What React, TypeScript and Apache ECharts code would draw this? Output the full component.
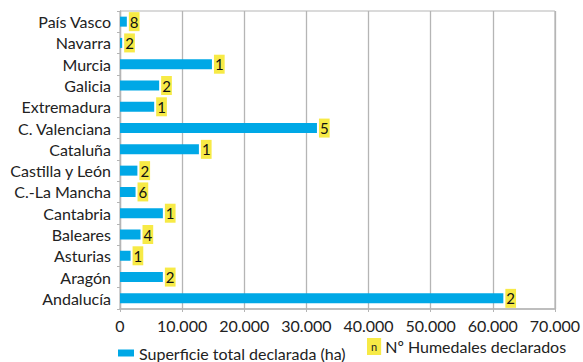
import React, { useEffect, useRef } from "react";
import * as echarts from "echarts";

const categories = [
  "Andalucía",
  "Aragón",
  "Asturias",
  "Baleares",
  "Cantabria",
  "C.-La Mancha",
  "Castilla y León",
  "Cataluña",
  "C. Valenciana",
  "Extremadura",
  "Galicia",
  "Murcia",
  "Navarra",
  "País Vasco",
];
const superficie = [61700, 6900, 1700, 3300, 6900, 2500, 2800, 12700, 31700, 5500, 6300, 14800, 350, 1100];
const humedales = [2, 2, 1, 4, 1, 6, 2, 1, 5, 1, 2, 1, 2, 8];
const xTicks = { min: 0, max: 70000, interval: 10000 };

const FONT = "Lato, 'Open Sans', sans-serif";
const BLUE = "#00a8e6";
const YELLOW = "#f7ea46";
const GRID = "#b5b5b5";

export default function App() {
  const ref = useRef<HTMLDivElement>(null);
  useEffect(() => {
    if (!ref.current) return;
    const chart = echarts.init(ref.current, undefined, { renderer: "svg" });
    chart.setOption({
      animation: false,
      textStyle: { fontFamily: FONT },
      grid: {
        left: 120,
        right: 15,
        top: 11,
        bottom: 53,
        show: true,
        borderColor: GRID,
        borderWidth: 1,
      },
      legend: {
        left: 113,
        top: 340,
        itemWidth: 16,
        itemHeight: 7,
        itemGap: 10,
        icon: "rect",
        textStyle: { fontSize: 16, color: "#222", fontFamily: FONT },
        data: ["Superficie total declarada (ha)"],
      },
      graphic: [
        {
          type: "text",
          left: 367,
          top: 338,
          style: {
            text: "{box|n} Nº Humedales declarados",
            rich: {
              box: {
                backgroundColor: YELLOW,
                fontSize: 11,
                color: "#222",
                padding: [3, 4, 3, 4],
                fontFamily: FONT,
              },
            },
            fontSize: 16,
            fill: "#222",
            fontFamily: FONT,
          },
        },
      ],
      xAxis: {
        type: "value",
        min: xTicks.min,
        max: xTicks.max,
        interval: xTicks.interval,
        axisLine: { show: true, lineStyle: { color: GRID, width: 1.5 } },
        axisTick: { show: true, length: 3, lineStyle: { color: GRID } },
        splitLine: { show: true, lineStyle: { color: GRID, width: 1.3 } },
        axisLabel: {
          fontSize: 16,
          color: "#222",
          margin: 8,
          fontFamily: FONT,
          formatter: (v: number) => v.toLocaleString("de-DE"),
        },
      },
      yAxis: {
        type: "category",
        data: categories,
        axisLine: { show: true, lineStyle: { color: GRID, width: 1.3 } },
        axisTick: { show: true, length: 3, lineStyle: { color: GRID } },
        axisLabel: { fontSize: 16, color: "#222", margin: 9, fontFamily: FONT },
      },
      series: [
        {
          name: "Superficie total declarada (ha)",
          type: "bar",
          data: superficie,
          barWidth: 10,
          itemStyle: { color: BLUE },
          label: {
            show: true,
            position: "right",
            distance: 2,
            formatter: (p: any) => String(humedales[p.dataIndex]),
            backgroundColor: YELLOW,
            color: "#111",
            fontSize: 15,
            lineHeight: 18,
            padding: [1, 1, 0, 1],
            fontFamily: FONT,
          },
        },
      ],
    });
    return () => chart.dispose();
  }, []);
  return <div ref={ref} style={{ position: "absolute", left: 0, top: 0, width: 583, height: 362 }} />;
}
